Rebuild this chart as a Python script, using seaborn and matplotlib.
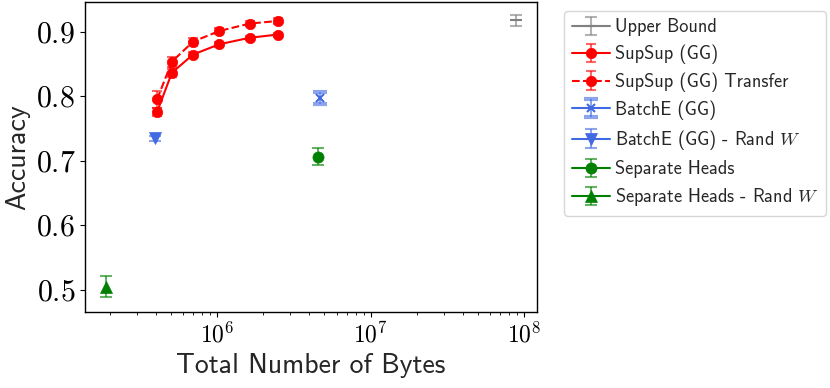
import numpy as np
import matplotlib
matplotlib.use("Agg")
import matplotlib.pyplot as plt
import seaborn as sns
from matplotlib.ticker import FuncFormatter, FixedLocator

# данные
supsup_bytes = [4.08e5, 5.09e5, 6.98e5, 1.035e6, 1.63e6, 2.48e6]
supsup_acc = [0.776, 0.8365, 0.8645, 0.8805, 0.8905, 0.8955]
supsup_err = [0.006, 0.006, 0.004, 0.004, 0.003, 0.003]

transfer_bytes = [4.08e5, 5.09e5, 6.98e5, 1.035e6, 1.63e6, 2.48e6]
transfer_acc = [0.7955, 0.8535, 0.8845, 0.901, 0.9125, 0.9165]
transfer_err = [0.013, 0.008, 0.006, 0.005, 0.004, 0.004]

upper_bytes = [8.9e7]
upper_acc = [0.9175]
upper_err = [0.009]

batche_bytes = [4.65e6]
batche_acc = [0.797]
batche_err = [0.009]

batche_rand_bytes = [3.95e5]
batche_rand_acc = [0.735]
batche_rand_err = [0.004]

heads_bytes = [4.57e6]
heads_acc = [0.7065]
heads_err = [0.0135]

heads_rand_bytes = [1.89e5]
heads_rand_acc = [0.5055]
heads_rand_err = [0.016]

sns.set_style("ticks")
plt.rcParams['font.family'] = ['cmss10', 'DejaVu Sans']
plt.rcParams['mathtext.fontset'] = 'cm'
plt.rcParams['axes.unicode_minus'] = False
plt.rcParams['axes.edgecolor'] = 'black'
plt.rcParams['axes.linewidth'] = 1.0
plt.rcParams['xtick.color'] = 'black'
plt.rcParams['ytick.color'] = 'black'

fig = plt.figure(figsize=(8.3, 3.88), dpi=100)
ax = fig.add_axes([0.1024, 0.195, 0.5446, 0.80])
ax.set_xscale('log')

series = [
    # подпись, x, y, ошибка, цвет, маркер, стиль линии, размер, толщина крышки, ширина крышки
    ("Upper Bound", upper_bytes, upper_acc, upper_err, 'gray', '_', '-', 8, 1.5, 4),
    ("SupSup (GG)", supsup_bytes, supsup_acc, supsup_err, 'red', 'o', '-', 7.5, 1.5, 3.5),
    ("SupSup (GG) Transfer", transfer_bytes, transfer_acc, transfer_err, 'red', 'o', '--', 7.5, 1.5, 3.5),
    ("BatchE (GG)", batche_bytes, batche_acc, batche_err, 'royalblue', 'x', '-', 6, 3.0, 4.8),
    ("BatchE (GG) - Rand $W$", batche_rand_bytes, batche_rand_acc, batche_rand_err, 'royalblue', 'v', '-', 8, 1.5, 4),
    ("Separate Heads", heads_bytes, heads_acc, heads_err, 'green', 'o', '-', 8, 1.5, 4.2),
    ("Separate Heads - Rand $W$", heads_rand_bytes, heads_rand_acc, heads_rand_err, 'green', '^', '-', 8.5, 1.5, 4.2),
]

handles, labels = [], []
for label, xs, ys, errs, c, m, ls, ms, ct, cs in series:
    eb = ax.errorbar(xs, ys, yerr=errs, fmt='none', ecolor=c, elinewidth=1.5,
                     capsize=cs, capthick=ct, alpha=0.6)
    sns.lineplot(x=xs, y=ys, ax=ax, color=c, marker=m, linestyle=ls, linewidth=1.5,
                 markersize=ms, markeredgecolor=c, markeredgewidth=1.5 if m in 'x_' else 0.5,
                 legend=False)
    line = ax.lines[-1]
    handles.append((eb, line))
    labels.append(label)

ax.set_xlim(10 ** 5.141, 10 ** 8.083)
ax.set_ylim(0.4655, 0.946)

ax.xaxis.set_major_locator(FixedLocator([1e6, 1e7, 1e8]))
ax.xaxis.set_major_formatter(FuncFormatter(lambda v, p: r'$10^{%d}$' % round(np.log10(v))))
ax.set_yticks([0.5, 0.6, 0.7, 0.8, 0.9])
ax.yaxis.set_major_formatter(FuncFormatter(lambda v, p: r'$%.1f$' % v))
ax.tick_params(axis='x', labelsize=17)
ax.tick_params(axis='y', labelsize=21.5)

ax.set_xlabel("Total Number of Bytes", fontsize=20)
ax.set_ylabel("Accuracy", fontsize=20)

ax.legend(handles, labels, loc='upper left', bbox_to_anchor=(1.04, 1),
          fontsize=13.2, handlelength=2.1, handletextpad=0.25, labelspacing=0.45)

fig.savefig("out.png", dpi=100)
